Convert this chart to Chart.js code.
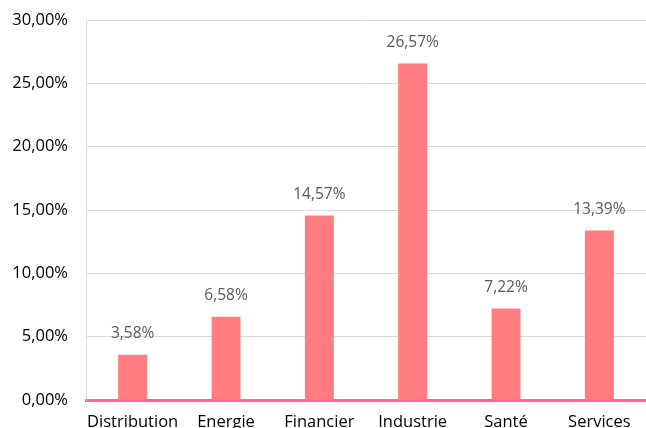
<!DOCTYPE html>
<html>
<head>
<meta charset="utf-8">
<script src="https://cdn.jsdelivr.net/npm/chart.js@4"></script>
<style>
  html, body { margin: 0; padding: 0; background: #fff; }
  #wrap { width: 646px; height: 428px; }
</style>
</head>
<body>
<div id="wrap"><canvas id="myChart" width="646" height="428"></canvas></div>
<script>
const secteurs = ['Distribution', 'Energie', 'Financier', 'Industrie', 'Santé', 'Services'];
const parts = [3.58, 6.58, 14.57, 26.57, 7.22, 13.39];
const yMax = 30;
const yStep = 5;

const fmt = (v, d) => v.toFixed(d).replace('.', ',') + '%';

// étiquettes de valeur au-dessus des barres
const etiquettes = {
  id: 'etiquettes',
  afterDatasetsDraw(chart) {
    const c = chart.ctx;
    const meta = chart.getDatasetMeta(0);
    c.save();
    c.font = '15.5px "Open Sans", sans-serif';
    c.fillStyle = '#595959';
    c.textAlign = 'center';
    c.textBaseline = 'middle';
    meta.data.forEach((bar, i) => {
      c.fillText(fmt(parts[i], 2), bar.x, bar.y - 21);
    });
    c.restore();
  }
};

const ctx = document.getElementById('myChart').getContext('2d');
const chart = new Chart(ctx, {
  type: 'bar',
  data: {
    labels: secteurs,
    datasets: [{
      data: parts,
      backgroundColor: '#FF7C80',
      borderWidth: 0,
      categoryPercentage: 1,
      barPercentage: 0.31
    }]
  },
  options: {
    responsive: false,
    animation: false,
    layout: { padding: { top: 20, right: 0, left: 0, bottom: 0 } },
    plugins: { legend: { display: false }, tooltip: { enabled: false } },
    scales: {
      x: {
        grid: { display: false, drawTicks: false },
        border: { color: '#FF6699', width: 3 },
        ticks: { color: '#000', font: { size: 16.5, family: '"Open Sans", sans-serif' }, padding: 12, maxRotation: 0, autoSkip: false },
        afterFit: (s) => { s.height = 28; s.paddingLeft = 0; s.paddingRight = 0; }
      },
      y: {
        min: 0,
        max: yMax,
        grid: { color: '#d9d9d9', drawTicks: false },
        border: { color: '#d9d9d9' },
        ticks: {
          stepSize: yStep,
          color: '#000',
          padding: 18,
          font: { size: 16.5, family: '"Open Sans", sans-serif' },
          callback: (v) => fmt(v, 2)
        },
        afterFit: (s) => { s.width = 86; s.paddingTop = 0; s.paddingBottom = 0; }
      }
    }
  },
  plugins: [etiquettes]
});
</script>
</body>
</html>
